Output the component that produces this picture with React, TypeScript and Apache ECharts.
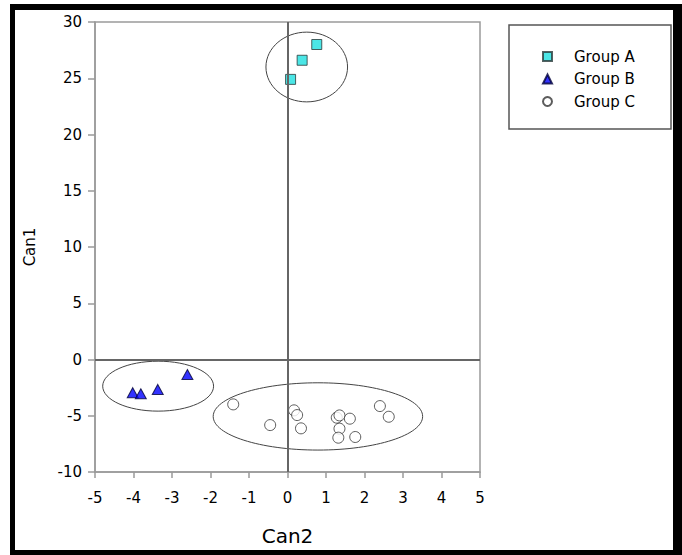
import React, { useEffect, useRef } from "react";
import * as echarts from "echarts";

const xTicks = { min: -5, max: 5, interval: 1 };
const yTicks = { min: -10, max: 30, interval: 5 };

const seriesNames = ["Group A", "Group B", "Group C"];

const groupAX = [0.08, 0.38, 0.76];
const groupAY = [24.9, 26.6, 28.0];

const groupBX = [-4.02, -3.81, -3.37, -2.6];
const groupBY = [-2.95, -3.04, -2.66, -1.33];

const groupCX = [-1.41, -0.45, 0.17, 0.25, 0.35, 1.28, 1.35, 1.62, 1.35, 1.32, 1.76, 2.4, 2.63];
const groupCY = [-3.99, -5.83, -4.52, -4.94, -6.12, -5.17, -4.97, -5.26, -6.15, -6.95, -6.89, -4.14, -5.09];

// confidence ellipses: centre and semi-axes in data units
const ellipseCx = [0.5, -3.36, 0.79];
const ellipseCy = [26.0, -2.37, -5.06];
const ellipseRx = [1.06, 1.44, 2.72];
const ellipseRy = [3.1, 2.22, 2.99];

const zip = (xs: number[], ys: number[]) => xs.map((x, i) => [x, ys[i]]);

const FONT = "DejaVu Sans";

export default function App() {
  const ref = useRef<HTMLDivElement>(null);
  useEffect(() => {
    if (!ref.current) return;
    const chart = echarts.init(ref.current, null, { renderer: "svg" });
    const ellipseData = ellipseCx.map((cx, i) => [cx, ellipseCy[i], ellipseRx[i], ellipseRy[i]]);
    chart.setOption({
      animation: false,
      backgroundColor: "#ffffff",
      textStyle: { fontFamily: FONT },
      grid: {
        left: 95,
        top: 22,
        right: 202,
        bottom: 83,
        containLabel: false,
        outerBoundsMode: "none",
        show: true,
        borderColor: "#9a9a9a",
        borderWidth: 1.5,
        backgroundColor: "transparent",
      },
      xAxis: {
        type: "value",
        min: xTicks.min,
        max: xTicks.max,
        interval: xTicks.interval,
        name: "Can2",
        nameLocation: "middle",
        nameGap: 54,
        nameTextStyle: { fontSize: 20, color: "#000", fontFamily: FONT },
        axisLine: { show: true, onZero: false, lineStyle: { color: "#9a9a9a", width: 1.5 } },
        axisTick: { show: true, length: 6, lineStyle: { color: "#9a9a9a", width: 1.5 } },
        axisLabel: { fontSize: 15, color: "#000", margin: 18, fontFamily: FONT },
        splitLine: { show: false },
      },
      yAxis: {
        type: "value",
        min: yTicks.min,
        max: yTicks.max,
        interval: yTicks.interval,
        name: "Can1",
        nameLocation: "middle",
        nameGap: 58,
        nameRotate: 90,
        nameTextStyle: { fontSize: 15, color: "#000", fontFamily: FONT },
        axisLine: { show: true, onZero: false, lineStyle: { color: "#9a9a9a", width: 1.5 } },
        axisTick: { show: true, length: 7, lineStyle: { color: "#9a9a9a", width: 1.5 } },
        axisLabel: { fontSize: 15, color: "#000", margin: 13, fontFamily: FONT },
        splitLine: { show: false },
      },
      legend: {
        data: seriesNames,
        orient: "vertical",
        left: 537,
        top: 44,
        itemWidth: 9,
        itemHeight: 9,
        itemGap: 7.5,
        textStyle: { fontSize: 15, color: "#000", fontFamily: FONT, padding: [0, 0, 0, 17] },
      },
      graphic: [
        {
          type: "rect",
          shape: { x: 509, y: 25, width: 162, height: 104 },
          style: { fill: "none", stroke: "#555", lineWidth: 1.5 },
          z: 10,
        },
        { type: "rect", shape: { x: 10, y: 4, width: 5, height: 551 }, style: { fill: "#000" }, z: 20 },
        { type: "rect", shape: { x: 10, y: 4, width: 672, height: 6 }, style: { fill: "#000" }, z: 20 },
        { type: "rect", shape: { x: 673, y: 4, width: 9, height: 551 }, style: { fill: "#000" }, z: 20 },
        { type: "rect", shape: { x: 10, y: 550, width: 672, height: 5 }, style: { fill: "#000" }, z: 20 },
      ],
      series: [
        {
          name: "ellipses",
          type: "custom",
          silent: true,
          z: 1,
          data: ellipseData,
          renderItem: (params: any, api: any) => {
            const c = api.coord([api.value(0), api.value(1)]);
            const s = api.size([api.value(2), api.value(3)]);
            return {
              type: "ellipse",
              shape: { cx: c[0], cy: c[1], rx: s[0], ry: s[1] },
              style: { fill: "none", stroke: "#444", lineWidth: 1 },
            };
          },
          markLine: {
            silent: true,
            symbol: "none",
            label: { show: false },
            lineStyle: { color: "#666", width: 2, type: "solid" },
            data: [{ xAxis: 0 }, { yAxis: 0 }],
          },
        },
        {
          name: seriesNames[0],
          type: "scatter",
          symbol: "rect",
          symbolSize: 10,
          z: 3,
          itemStyle: { color: "#1ee0e0", borderColor: "#2a3a3a", borderWidth: 1 },
          data: zip(groupAX, groupAY),
        },
        {
          name: seriesNames[1],
          type: "scatter",
          symbol: "triangle",
          symbolSize: [11, 10],
          z: 3,
          itemStyle: { color: "#0000ff", borderColor: "#00003a", borderWidth: 1 },
          data: zip(groupBX, groupBY),
        },
        {
          name: seriesNames[2],
          type: "scatter",
          symbol: "circle",
          symbolSize: 11,
          z: 3,
          itemStyle: { color: "#ffffff", borderColor: "#333", borderWidth: 1 },
          data: zip(groupCX, groupCY),
        },
      ],
    });
    return () => chart.dispose();
  }, []);
  return (
    <div
      ref={ref}
      style={{ position: "fixed", left: 0, top: 0, width: 682, height: 555, background: "#fff" }}
    />
  );
}
